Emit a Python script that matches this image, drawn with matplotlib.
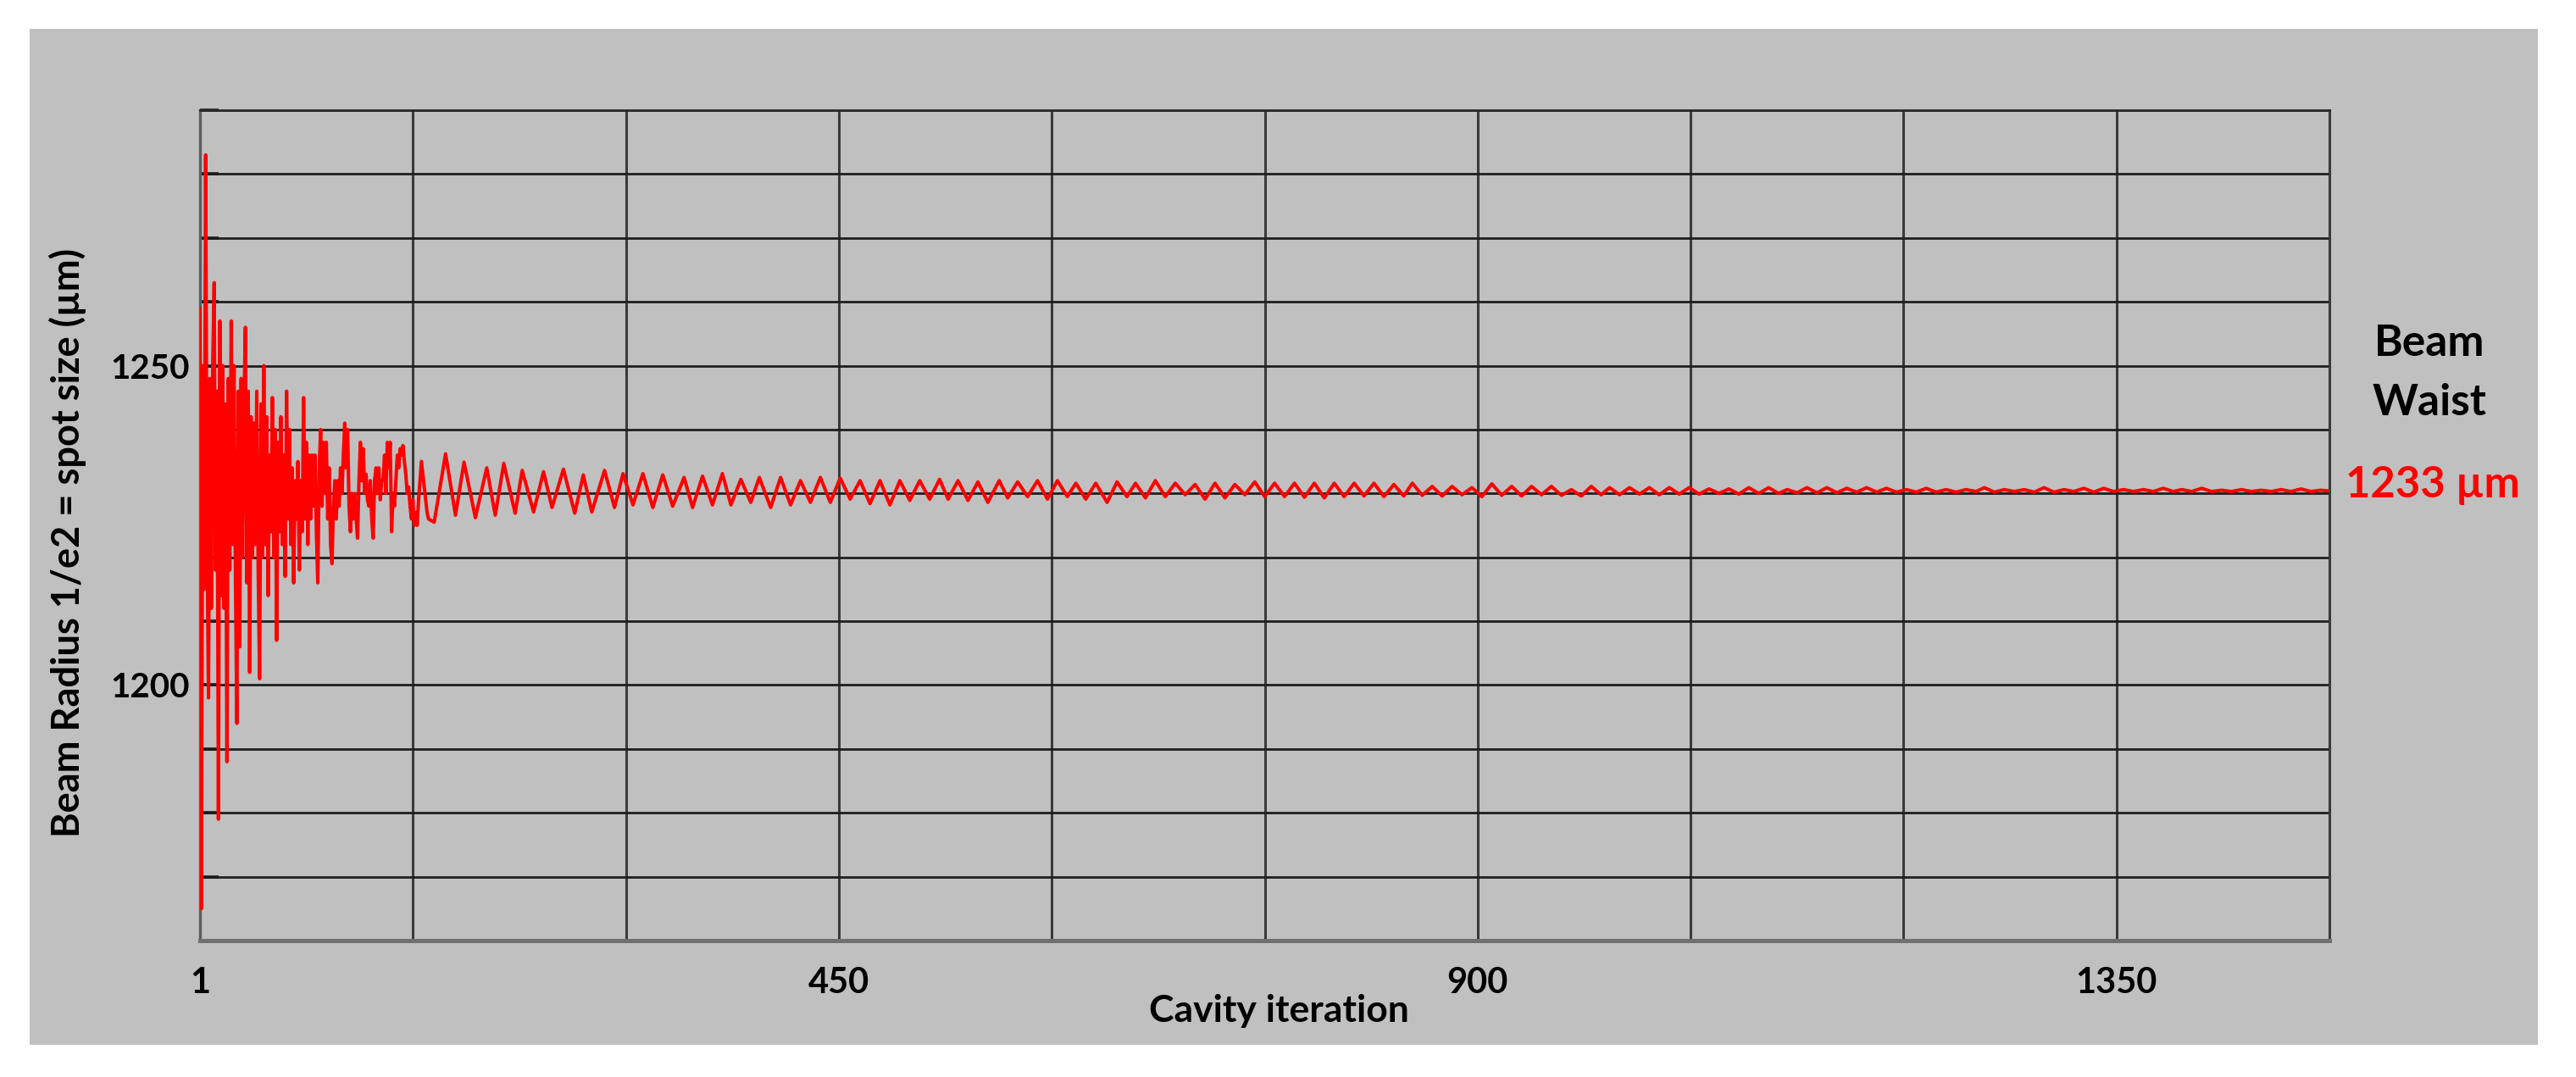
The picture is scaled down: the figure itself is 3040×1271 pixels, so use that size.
import numpy as np
import matplotlib
matplotlib.use("Agg")
import matplotlib.pyplot as plt
from matplotlib.patches import Rectangle

# ---------------- data ----------------
# iterations 1..162, one value per cavity iteration (µm)
early_radius = [
    1259, 1165, 1250, 1215, 1283, 1222, 1198, 1248, 1212, 1250,
    1263, 1218, 1246, 1179, 1257, 1214, 1250, 1212, 1244, 1188,
    1248, 1218, 1257, 1222, 1250, 1216, 1194, 1246, 1206, 1248,
    1220, 1244, 1256, 1216, 1246, 1202, 1242, 1220, 1241, 1222,
    1246, 1218, 1201, 1244, 1220, 1250, 1222, 1242, 1214, 1236,
    1224, 1245, 1220, 1240, 1207, 1238, 1224, 1242, 1222, 1236,
    1217, 1246, 1226, 1240, 1222, 1234, 1216, 1232, 1226, 1235,
    1218, 1232, 1224, 1245, 1226, 1238, 1222, 1236, 1226, 1236,
    1228, 1236, 1224, 1216, 1234, 1240, 1228, 1238, 1230, 1238,
    1226, 1234, 1222, 1219, 1228, 1232, 1226, 1232, 1228, 1234,
    1230, 1236, 1241, 1234, 1240, 1228, 1224, 1230, 1226, 1230,
    1226, 1223, 1232, 1238, 1232, 1237, 1230, 1233, 1229, 1228,
    1232, 1226, 1223, 1232, 1234, 1230, 1234, 1229, 1232, 1232,
    1236, 1230, 1238, 1234, 1238, 1224, 1230, 1228, 1232, 1236,
    1234, 1237, 1236, 1237.5, 1235, 1233, 1230, 1231, 1228, 1226,
    1229, 1225, 1227, 1225, 1229, 1232, 1235, 1233, 1231, 1229,
    1227, 1226,
]

# turning points (troughs / peaks) of the oscillation, iterations 166..751
mid_iteration = [
    166, 174, 181, 187, 195, 203, 209, 215, 223, 228,
    236, 243, 249, 257, 265, 271, 277, 286, 293, 299,
    306, 313, 320, 327, 334, 342, 348, 355, 362, 369,
    375, 382, 389, 395, 403, 410, 417, 424, 431, 438,
    445, 452, 459, 466, 473, 480, 487, 494, 501, 508,
    515, 522, 528, 535, 542, 549, 556, 564, 570, 577,
    584, 591, 598, 605, 612, 618, 625, 632, 640, 647,
    654, 660, 667, 674, 681, 688, 695, 702, 709, 716,
    723, 730, 737, 744, 751,
]
mid_radius = [
    1225.5, 1236.2, 1226.6, 1234.9, 1226.2, 1234.0, 1226.6, 1234.7, 1226.9, 1233.6,
    1227.1, 1233.4, 1227.8, 1233.8, 1226.9, 1232.9, 1227.1, 1233.6, 1227.8, 1233.1,
    1228.2, 1233.1, 1227.8, 1232.9, 1228.0, 1232.5, 1227.8, 1232.7, 1228.2, 1233.1,
    1228.2, 1232.2, 1228.6, 1232.5, 1227.8, 1232.5, 1228.2, 1232.0, 1228.6, 1232.5,
    1228.6, 1232.4, 1229.1, 1232.0, 1228.4, 1232.0, 1228.2, 1232.0, 1228.9, 1232.0,
    1229.1, 1232.2, 1229.1, 1232.0, 1228.9, 1231.8, 1228.6, 1232.0, 1229.3, 1231.8,
    1229.5, 1232.0, 1229.1, 1232.0, 1229.5, 1231.6, 1229.1, 1231.6, 1228.6, 1231.8,
    1229.5, 1231.6, 1229.3, 1232.0, 1229.5, 1231.6, 1229.8, 1231.4, 1229.1, 1231.6,
    1229.3, 1231.4, 1229.8, 1231.8, 1229.5,
]

# turning points, iterations 758..1500
late_iteration = [
    758, 765, 772, 779, 786, 793, 800, 807, 814, 821,
    828, 835, 842, 849, 855, 862, 869, 876, 883, 890,
    897, 904, 911, 918, 925, 932, 939, 946, 953, 960,
    967, 974, 981, 988, 994, 1001, 1008, 1015, 1022, 1029,
    1036, 1043, 1050, 1057, 1064, 1071, 1078, 1085, 1092, 1099,
    1106, 1113, 1119, 1126, 1133, 1140, 1147, 1154, 1161, 1168,
    1175, 1182, 1189, 1196, 1203, 1210, 1217, 1224, 1231, 1238,
    1245, 1252, 1258, 1265, 1272, 1279, 1286, 1293, 1300, 1307,
    1314, 1321, 1328, 1335, 1342, 1349, 1356, 1363, 1370, 1377,
    1384, 1391, 1397, 1404, 1411, 1418, 1425, 1432, 1439, 1446,
    1453, 1460, 1467, 1474, 1481, 1488, 1495, 1500,
]
late_radius = [
    1231.6, 1229.5, 1231.6, 1229.4, 1231.6, 1229.3, 1231.6, 1229.5, 1231.6, 1229.6,
    1231.6, 1229.5, 1231.4, 1229.6, 1231.6, 1229.7, 1231.1, 1229.6, 1231.1, 1229.8,
    1230.9, 1229.5, 1231.5, 1229.7, 1231.1, 1229.6, 1231.1, 1229.8, 1231.1, 1229.7,
    1230.6, 1229.6, 1231.1, 1229.8, 1230.9, 1229.8, 1230.9, 1229.9, 1230.9, 1229.8,
    1230.9, 1229.9, 1230.9, 1229.9, 1230.7, 1230.0, 1230.7, 1229.9, 1230.9, 1230.0,
    1230.9, 1230.0, 1230.6, 1230.1, 1230.9, 1230.1, 1230.9, 1230.1, 1230.8, 1230.2,
    1230.9, 1230.2, 1230.8, 1230.2, 1230.6, 1230.2, 1230.8, 1230.2, 1230.6, 1230.2,
    1230.6, 1230.3, 1230.9, 1230.2, 1230.6, 1230.3, 1230.6, 1230.2, 1230.9, 1230.2,
    1230.6, 1230.3, 1230.8, 1230.2, 1230.8, 1230.3, 1230.6, 1230.3, 1230.6, 1230.3,
    1230.8, 1230.3, 1230.6, 1230.3, 1230.8, 1230.3, 1230.5, 1230.3, 1230.6, 1230.3,
    1230.5, 1230.3, 1230.6, 1230.3, 1230.7, 1230.3, 1230.5, 1230.4,
]

x_ticks = [1, 151, 301, 451, 601, 751, 901, 1051, 1201, 1351, 1501]
x_tick_labels = ["1", "", "", "450", "", "", "900", "", "", "1350", ""]
y_ticks = [1160, 1170, 1180, 1190, 1200, 1210, 1220, 1230, 1240, 1250, 1260, 1270, 1280, 1290]
y_tick_labels = ["", "", "", "", "1200", "", "", "", "", "1250", "", "", "", ""]

x_label = "Cavity iteration"
y_label = "Beam Radius 1/e2 = spot size (\u00b5m)"
note_title = ["Beam", "Waist"]
note_value = "1233 \u00b5m"

# ---------------- figure ----------------
W, H = 3040, 1271
fig = plt.figure(figsize=(W / 100, H / 100), dpi=100)
fig.patch.set_facecolor("white")
FONT = ["Lato", "DejaVu Sans"]
GRAY = "#c0c0c0"

fig.patches.append(Rectangle((35 / W, 1 - 1233 / H), (2995 - 35) / W, (1233 - 34) / H,
                             transform=fig.transFigure, facecolor=GRAY,
                             edgecolor="none", zorder=-10))

left, right, top, bottom = 236, 2749, 130, 1110
ax = fig.add_axes([left / W, 1 - bottom / H, (right - left) / W, (bottom - top) / H])
ax.set_facecolor(GRAY)

iteration = np.concatenate([np.arange(1, len(early_radius) + 1),
                            np.array(mid_iteration), np.array(late_iteration)])
radius = np.concatenate([np.array(early_radius, float),
                         np.array(mid_radius), np.array(late_radius)])
ax.plot(iteration, radius, color="#ff0000", lw=2.9, zorder=3,
        solid_joinstyle="round", solid_capstyle="round")

ax.set_xlim(1, 1501)
ax.set_ylim(1160, 1290)
ax.set_xticks(x_ticks)
ax.set_xticklabels(x_tick_labels)
ax.set_yticks(y_ticks)
ax.set_yticklabels(y_tick_labels)

ax.grid(True, axis="y", color="#1e1e1e", lw=2.0, zorder=1)
ax.grid(True, axis="x", color="#3a3a3a", lw=2.2, zorder=1)
ax.set_axisbelow(True)

ax.tick_params(axis="y", direction="in", length=16, width=2.6, color="#1a1a1a",
               pad=9, labelsize=29)
ax.tick_params(axis="x", length=0, pad=22, labelsize=30)
for lab in ax.get_xticklabels() + ax.get_yticklabels():
    lab.set_family(FONT)
    lab.set_fontweight("bold")
    lab.set_color("black")

ax.spines["left"].set_color("#5e5e5e")
ax.spines["left"].set_linewidth(2.4)
ax.spines["bottom"].set_color("#707070")
ax.spines["bottom"].set_linewidth(3.6)
ax.spines["top"].set_color("#2a2a2a")
ax.spines["top"].set_linewidth(2.0)
ax.spines["right"].set_color("#3a3a3a")
ax.spines["right"].set_linewidth(2.2)

fig.text(1509 / W, 1 - 1193 / H, x_label, ha="center", va="center",
         fontsize=32, fontweight="bold", family=FONT)
fig.text(80 / W, 1 - 640 / H, y_label, ha="center", va="center", rotation=90,
         fontsize=32.5, fontweight="bold", family=FONT)
fig.text(2867 / W, 1 - 405 / H, note_title[0], ha="center", va="center",
         fontsize=37, fontweight="bold", family=FONT)
fig.text(2867 / W, 1 - 475 / H, note_title[1], ha="center", va="center",
         fontsize=37, fontweight="bold", family=FONT)
fig.text(2768 / W, 1 - 573 / H, note_value, ha="left", va="center", color="#ff0000",
         fontsize=36.5, fontweight="bold", family=FONT)

fig.savefig("out.png", dpi=100, facecolor="white")
